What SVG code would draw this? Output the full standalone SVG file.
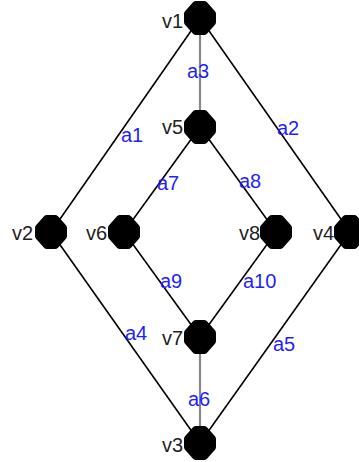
<svg xmlns="http://www.w3.org/2000/svg" width="359" height="462" viewBox="0 0 359 462">
<defs>
<style>
.e{stroke:#000;stroke-width:1.6;fill:none}
.g{stroke:#888;stroke-width:2.2;fill:none}
.n{fill:#000;stroke:#000;stroke-width:8;stroke-linejoin:round}
.nl{font-family:"Liberation Sans",Arial,sans-serif;font-size:20px;fill:#222;text-anchor:end}
.el{font-family:"Liberation Sans",Arial,sans-serif;font-size:20px;fill:#1f1fff}
</style>
<polygon id="blob" class="n" points="-4,-13 4,-13 12,-4 12,4 4,13 -4,13 -12,4 -12,-4"/>
</defs>
<rect width="359" height="462" fill="#fff"/>
<g id="connectors">
<line class="e" x1="200" y1="18" x2="51" y2="232"/>
<line class="e" x1="200" y1="18" x2="350" y2="232"/>
<line class="g" x1="200" y1="18" x2="200" y2="127"/>
<line class="e" x1="51" y1="232" x2="200" y2="443"/>
<line class="e" x1="350" y1="232" x2="200" y2="443"/>
<line class="g" x1="200" y1="337" x2="200" y2="443"/>
<line class="e" x1="200" y1="127" x2="124" y2="232"/>
<line class="e" x1="200" y1="127" x2="276" y2="232"/>
<line class="e" x1="124" y1="232" x2="200" y2="337"/>
<line class="e" x1="276" y1="232" x2="200" y2="337"/>
<text class="el" x="121" y="142">a1</text>
<text class="el" x="277" y="135">a2</text>
<text class="el" x="187" y="78">a3</text>
<text class="el" x="125" y="340">a4</text>
<text class="el" x="273" y="351">a5</text>
<text class="el" x="188" y="406">a6</text>
<text class="el" x="157" y="190">a7</text>
<text class="el" x="239" y="188">a8</text>
<text class="el" x="160" y="288">a9</text>
<text class="el" x="243" y="288">a10</text>
</g>
<g id="v1"><use href="#blob" x="200" y="18"/><text class="nl" x="183" y="28">v1</text></g>
<g id="v2"><use href="#blob" x="51" y="232"/><text class="nl" x="33" y="240">v2</text></g>
<g id="v3"><use href="#blob" x="200" y="443"/><text class="nl" x="183" y="452">v3</text></g>
<g id="v4"><use href="#blob" x="350" y="232"/><text class="nl" x="334" y="240">v4</text></g>
<g id="v5"><use href="#blob" x="200" y="127"/><text class="nl" x="183" y="134">v5</text></g>
<g id="v6"><use href="#blob" x="124" y="232"/><text class="nl" x="107" y="240">v6</text></g>
<g id="v7"><use href="#blob" x="200" y="337"/><text class="nl" x="183" y="345">v7</text></g>
<g id="v8"><use href="#blob" x="276" y="232"/><text class="nl" x="260" y="240">v8</text></g>
</svg>
